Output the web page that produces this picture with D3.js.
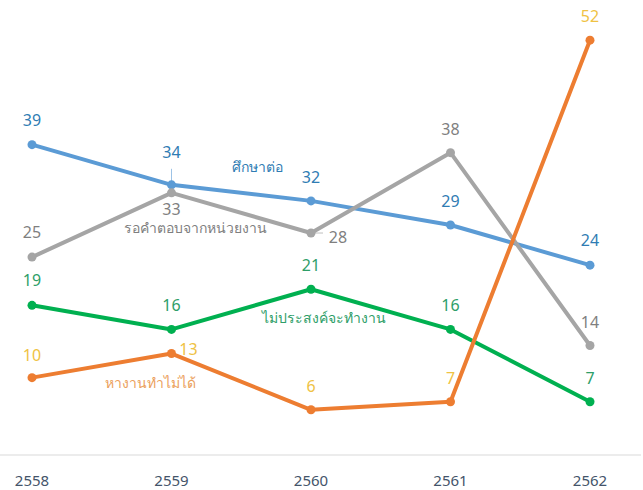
<!DOCTYPE html>
<html><head><meta charset="utf-8">
<script src="https://cdn.jsdelivr.net/npm/d3@7"></script>
<style>body{margin:0;background:#fff}svg{display:block}text{font-family:"Segoe UI",Tahoma,"Noto Sans","DejaVu Sans",sans-serif}</style>
</head><body><svg id="c" width="643" height="490"></svg>
<script>
const years = ["2558","2559","2560","2561","2562"];
const studyValues = [39,34,32,29,24];
const waitingValues = [25,33,28,38,14];
const notWorkValues = [19,16,21,16,7];
const noJobValues = [10,13,6,7,52];
const seriesNames = ["ศึกษาต่อ","รอคำตอบจากหน่วยงาน","ไม่ประสงค์จะทำงาน","หางานทำไม่ได้"];

const series = [
  {name:seriesNames[0], values:studyValues, color:"#5b9bd5", label:"#2f7cb3", nameColor:"#2f7cb3",
   off:[[0,-19],[0,-27],[0,-18],[0,-18],[0,-19]], nameAt:[257,172]},
  {name:seriesNames[1], values:waitingValues, color:"#a5a5a5", label:"#7f7f7f", nameColor:"#7f7f7f",
   off:[[0,-19],[0,22],[27,10],[0,-18],[0,-18]], nameAt:[195,233]},
  {name:seriesNames[2], values:notWorkValues, color:"#00b050", label:"#2e9e68", nameColor:"#2e9e68",
   off:[[0,-19],[0,-18],[0,-18],[0,-18],[0,-18]], nameAt:[324,323]},
  {name:seriesNames[3], values:noJobValues, color:"#ed7d31", label:"#efc244", nameColor:"#eba15c",
   off:[[0,-17],[17,1],[0,-18],[0,-18],[0,-18]], nameAt:[150,388]}
];

const svg = d3.select("#c");
const x = d3.scalePoint().domain(years).range([32,590]);
const y = d3.scaleLinear().domain([0,57]).range([458,0]);

svg.append("line").attr("x1",0).attr("x2",641).attr("y1",455).attr("y2",455)
  .attr("stroke","#d9d9d9").attr("stroke-width",1);

svg.append("g").selectAll("text").data(years).join("text")
  .attr("x",d=>x(d)).attr("y",486).attr("text-anchor","middle")
  .attr("font-size",15).attr("fill","#44546a").text(d=>d);

const line = d3.line().x((d,i)=>x(years[i])).y(d=>y(d));

// leader lines
svg.append("line").attr("x1",x(years[1])).attr("x2",x(years[1]))
  .attr("y1",y(34)-16).attr("y2",y(34)).attr("stroke","#9dc3e6").attr("stroke-width",1);
svg.append("line").attr("x1",x(years[2])+4).attr("x2",x(years[2])+12)
  .attr("y1",y(28)).attr("y2",y(28)).attr("stroke","#bfbfbf").attr("stroke-width",1);

series.forEach(s=>{
  const g = svg.append("g");
  g.append("path").attr("d",line(s.values)).attr("fill","none")
    .attr("stroke",s.color).attr("stroke-width",4).attr("stroke-linejoin","round");
  g.selectAll("circle").data(s.values).join("circle")
    .attr("cx",(d,i)=>x(years[i])).attr("cy",d=>y(d)).attr("r",4.5).attr("fill",s.color);
});
series.forEach(s=>{
  const g = svg.append("g");
  g.selectAll("text").data(s.values).join("text")
    .attr("x",(d,i)=>x(years[i])+s.off[i][0]).attr("y",(d,i)=>y(d)+s.off[i][1])
    .attr("text-anchor","middle").attr("font-size",16).attr("fill",s.label).text(d=>d);
  g.append("text").attr("x",s.nameAt[0]).attr("y",s.nameAt[1]).attr("text-anchor","middle")
    .attr("font-size",14).attr("fill",s.nameColor).text(s.name);
});
</script></body></html>
